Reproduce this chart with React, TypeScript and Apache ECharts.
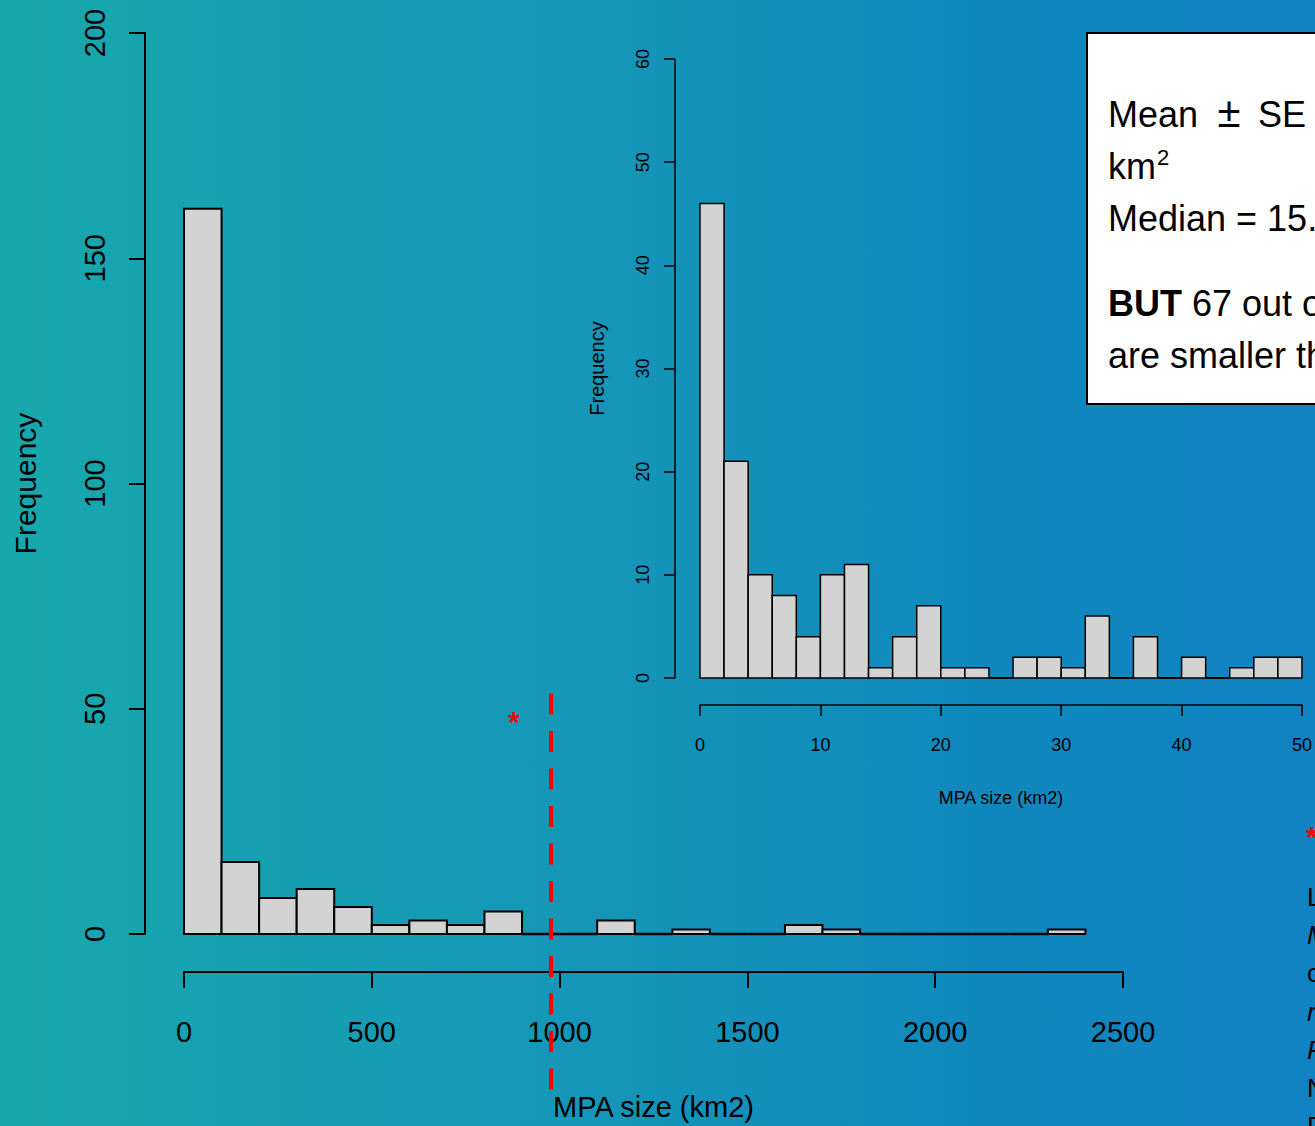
import React, { useEffect, useRef } from "react";
import * as echarts from "echarts";

// ---- Data ----
const mainBinWidth = 100;
const mainCounts = [161, 16, 8, 10, 6, 2, 3, 2, 5, 0, 0, 3, 0, 1, 0, 0, 2, 1, 0, 0, 0, 0, 0, 1];
const mainXTicks = [0, 500, 1000, 1500, 2000, 2500];
const mainYTicks = [0, 50, 100, 150, 200];

const insetBinWidth = 2;
const insetCounts = [46, 21, 10, 8, 4, 10, 11, 1, 4, 7, 1, 1, 0, 2, 2, 1, 6, 0, 4, 0, 2, 0, 1, 2, 2];
const insetXTicks = [0, 10, 20, 30, 40, 50];
const insetYTicks = [0, 10, 20, 30, 40, 50, 60];

// mean line (x value, top value, bottom value) in main-chart units
const meanLine = [[977, 53.4, -34.5]];
const starPoint = [[878, 47]];

const boxMeanParts = ["Mean", "±", "SE = 977 ± 185"];
const boxLines1 = ["km", "Median = 15.4 km²"];
const boxLines2 = ["67 out of 221 MPAs", "are smaller than 4 km²"];
const refLines = [
  "Lester SE, Halpern BS et al. 2009",
  "Marine Ecology Progress Series",
  "of no-take marine reserves",
  "reserves worldwide",
  "Fisheries Research",
  "No-take reserves",
  "Fisheries management",
];
const refItalic = [false, true, false, true, true, false, false];

const FONT = "'Liberation Sans', Arial, sans-serif";

function bins(counts: number[], w: number) {
  return counts.map((c, i) => [i * w, (i + 1) * w, c]);
}

function histItem(lw: number) {
  return (params: any, api: any) => {
    const x0 = api.value(0);
    const x1 = api.value(1);
    const c = api.value(2);
    const p0 = api.coord([x0, 0]);
    const p1 = api.coord([x1, c]);
    if (c === 0) {
      return {
        type: "line",
        shape: { x1: p0[0], y1: p0[1], x2: p1[0], y2: p0[1] },
        style: { stroke: "#000", lineWidth: lw + 0.5 },
      };
    }
    return {
      type: "rect",
      shape: { x: p0[0], y: p1[1], width: p1[0] - p0[0], height: p0[1] - p1[1] },
      style: { fill: "#d3d3d3", stroke: "#000", lineWidth: lw },
    };
  };
}

function axisCommon(fs: number, tickLen: number, lw: number) {
  return {
    axisLine: { show: true, onZero: false, lineStyle: { color: "#000", width: lw } },
    axisTick: { show: true, length: tickLen, lineStyle: { color: "#000", width: lw } },
    splitLine: { show: false },
    nameTextStyle: { color: "#000", fontSize: fs, fontFamily: FONT },
  };
}

const plain = (v: number) => String(v);

export default function App() {
  const ref = useRef<HTMLDivElement>(null);
  useEffect(() => {
    if (!ref.current) return;
    const chart = echarts.init(ref.current, null, { renderer: "svg" });

    const txt = (x: number, y: number, text: string, font: string, extra: any = {}) => ({
      type: "text",
      x,
      y,
      style: { text, font, fill: "#000", verticalAlign: "middle", ...extra },
      z: 11,
    });

    const graphics: any[] = [
      {
        type: "rect",
        shape: { x: 1087, y: 33, width: 300, height: 371 },
        style: { fill: "#fff", stroke: "#000", lineWidth: 2 },
        z: 10,
      },
      txt(1108, 114, boxMeanParts[0], `36px ${FONT}`),
      txt(1229, 112, boxMeanParts[1], `42px ${FONT}`, { align: "center" }),
      txt(1258, 114, boxMeanParts[2], `36px ${FONT}`),
      txt(1108, 166, boxLines1[0], `36px ${FONT}`),
      txt(1157, 157, "2", `22px ${FONT}`),
      txt(1108, 218, boxLines1[1], `36px ${FONT}`),
      txt(1108, 303, "{b|BUT} " + boxLines2[0], `36px ${FONT}`, {
        rich: { b: { fontWeight: "bold", fontSize: 36, fontFamily: FONT, fill: "#000" } },
      }),
      txt(1108, 355, boxLines2[1], `36px ${FONT}`),
      txt(1306, 836, "*", `bold 30px ${FONT}`, { fill: "#ff0000" }),
    ];
    refLines.forEach((t, i) => {
      graphics.push(txt(1307, 897 + i * 38.2, t, `${refItalic[i] ? "italic " : ""}26px ${FONT}`));
    });

    chart.setOption({
      animation: false,
      backgroundColor: "transparent",
      grid: [
        { left: 184, top: 33, width: 939, height: 902 },
        { left: 700, top: 59, width: 602, height: 619 },
      ],
      xAxis: [
        {
          type: "value",
          gridIndex: 0,
          min: mainXTicks[0],
          max: mainXTicks[mainXTicks.length - 1],
          interval: mainXTicks[1] - mainXTicks[0],
          offset: 38,
          ...axisCommon(29, 16, 2),
          axisLabel: { formatter: plain, margin: 45, fontSize: 29, color: "#000", fontFamily: FONT, showMinLabel: true, showMaxLabel: true },
          name: "MPA size (km2)",
          nameLocation: "middle",
          nameGap: 120,
        },
        {
          type: "value",
          gridIndex: 1,
          min: insetXTicks[0],
          max: insetXTicks[insetXTicks.length - 1],
          interval: insetXTicks[1] - insetXTicks[0],
          offset: 27,
          ...axisCommon(18, 11, 1.5),
          axisLabel: { formatter: plain, margin: 31, fontSize: 18, color: "#000", fontFamily: FONT, showMinLabel: true, showMaxLabel: true },
          name: "MPA size (km2)",
          nameLocation: "middle",
          nameGap: 84,
        },
      ],
      yAxis: [
        {
          type: "value",
          gridIndex: 0,
          min: mainYTicks[0],
          max: mainYTicks[mainYTicks.length - 1],
          interval: mainYTicks[1] - mainYTicks[0],
          offset: 39,
          ...axisCommon(30, 16, 2),
          axisLabel: { formatter: plain, rotate: 90, margin: 36, fontSize: 29, color: "#000", fontFamily: FONT, showMinLabel: true, showMaxLabel: true },
          name: "Frequency",
          nameLocation: "middle",
          nameRotate: 90,
          nameGap: 105,
        },
        {
          type: "value",
          gridIndex: 1,
          min: insetYTicks[0],
          max: insetYTicks[insetYTicks.length - 1],
          interval: insetYTicks[1] - insetYTicks[0],
          offset: 25,
          ...axisCommon(20, 11, 1.5),
          axisLabel: { formatter: plain, rotate: 90, margin: 23, fontSize: 18, color: "#000", fontFamily: FONT, showMinLabel: true, showMaxLabel: true },
          name: "Frequency",
          nameLocation: "middle",
          nameRotate: 90,
          nameGap: 68,
        },
      ],
      series: [
        {
          type: "custom",
          xAxisIndex: 0,
          yAxisIndex: 0,
          renderItem: histItem(2),
          encode: { x: [0, 1], y: 2 },
          data: bins(mainCounts, mainBinWidth),
          clip: false,
        },
        {
          type: "custom",
          xAxisIndex: 1,
          yAxisIndex: 1,
          renderItem: histItem(1.5),
          encode: { x: [0, 1], y: 2 },
          data: bins(insetCounts, insetBinWidth),
          clip: false,
        },
        {
          type: "custom",
          xAxisIndex: 0,
          yAxisIndex: 0,
          clip: false,
          z: 5,
          renderItem: (params: any, api: any) => {
            const a = api.coord([api.value(0), api.value(1)]);
            const b = api.coord([api.value(0), api.value(2)]);
            return {
              type: "line",
              shape: { x1: a[0], y1: a[1], x2: b[0], y2: b[1] },
              style: { stroke: "#ff0000", lineWidth: 4, lineDash: [21, 16.5] },
            };
          },
          data: meanLine,
        },
        {
          type: "custom",
          xAxisIndex: 0,
          yAxisIndex: 0,
          clip: false,
          z: 5,
          renderItem: (params: any, api: any) => {
            const p = api.coord([api.value(0), api.value(1)]);
            return {
              type: "text",
              x: p[0],
              y: p[1] - 1,
              style: { text: "*", font: `bold 30px ${FONT}`, fill: "#ff0000", align: "center", verticalAlign: "middle" },
            };
          },
          data: starPoint,
        },
      ],
      graphic: graphics,
    });
    return () => chart.dispose();
  }, []);

  return (
    <div
      ref={ref}
      style={{
        position: "fixed",
        left: 0,
        top: 0,
        width: 1315,
        height: 1126,
        background: "linear-gradient(90deg, #17a8ac 0%, #1596b8 45%, #1088bd 75%, #1182c2 100%)",
      }}
    />
  );
}
